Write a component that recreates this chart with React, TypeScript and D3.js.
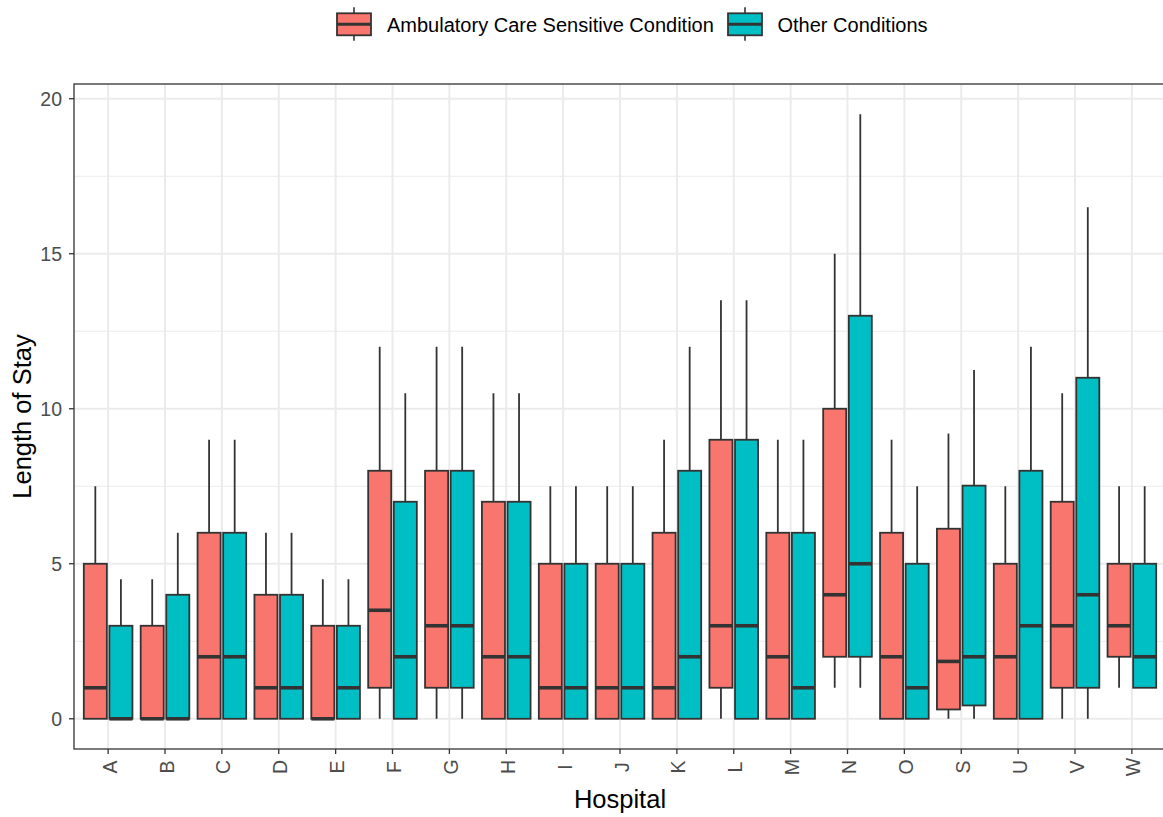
import React from "react";
import * as d3 from "d3";

// Hospitals along the x axis
const hospitals = ["A", "B", "C", "D", "E", "F", "G", "H", "I", "J", "K", "L", "M", "N", "O", "S", "U", "V", "W"];

// Ambulatory Care Sensitive Condition: whisker ends, quartiles and median
const acscLow = [0, 0, 0, 0, 0, 0, 0, 0, 0, 0, 0, 0, 0, 1, 0, 0, 0, 0, 1];
const acscQ1 = [0, 0, 0, 0, 0, 1, 1, 0, 0, 0, 0, 1, 0, 2, 0, 0.3, 0, 1, 2];
const acscMedian = [1, 0, 2, 1, 0, 3.5, 3, 2, 1, 1, 1, 3, 2, 4, 2, 1.85, 2, 3, 3];
const acscQ3 = [5, 3, 6, 4, 3, 8, 8, 7, 5, 5, 6, 9, 6, 10, 6, 6.13, 5, 7, 5];
const acscHigh = [7.5, 4.5, 9, 6, 4.5, 12, 12, 10.5, 7.5, 7.5, 9, 13.5, 9, 15, 9, 9.2, 7.5, 10.5, 7.5];

// Other Conditions: whisker ends, quartiles and median
const otherLow = [0, 0, 0, 0, 0, 0, 0, 0, 0, 0, 0, 0, 0, 1, 0, 0, 0, 0, 1];
const otherQ1 = [0, 0, 0, 0, 0, 0, 1, 0, 0, 0, 0, 0, 0, 2, 0, 0.43, 0, 1, 1];
const otherMedian = [0, 0, 2, 1, 1, 2, 3, 2, 1, 1, 2, 3, 1, 5, 1, 2, 3, 4, 2];
const otherQ3 = [3, 4, 6, 4, 3, 7, 8, 7, 5, 5, 8, 9, 6, 13, 5, 7.52, 8, 11, 5];
const otherHigh = [4.5, 6, 9, 6, 4.5, 10.5, 12, 10.5, 7.5, 7.5, 12, 13.5, 9, 19.5, 7.5, 11.25, 12, 16.5, 7.5];

const groupNames = ["Ambulatory Care Sensitive Condition", "Other Conditions"];
const groupColors = ["#F8766D", "#00BFC4"];

const yMajorTicks = [0, 5, 10, 15, 20];
const yMinorTicks = [2.5, 7.5, 12.5, 17.5];

const W = 1163;
const H = 817;
const panel = { left: 74, right: 1166, top: 84, bottom: 749 };
const FONT = "'Liberation Sans', Arial, Helvetica, sans-serif";
const INK = "#333333";

type Box = { low: number; q1: number; med: number; q3: number; high: number };

export default function App() {
  const x = d3
    .scalePoint<string>()
    .domain(hospitals)
    .range([panel.left, panel.right])
    .padding(0.6);
  const step = x.step();

  const y = d3
    .scaleLinear()
    .domain([-0.975, 20.475])
    .range([panel.bottom, panel.top]);

  const groups: Box[][] = [
    hospitals.map((_, i) => ({
      low: acscLow[i], q1: acscQ1[i], med: acscMedian[i], q3: acscQ3[i], high: acscHigh[i],
    })),
    hospitals.map((_, i) => ({
      low: otherLow[i], q1: otherQ1[i], med: otherMedian[i], q3: otherQ3[i], high: otherHigh[i],
    })),
  ];

  // dodged boxes: each slot is 0.45 of a step, box takes 90% of its slot
  const slot = step * 0.45;
  const boxW = slot * 0.9;
  const offsets = [-slot / 2, slot / 2];

  const legendKeys = [337, 728];
  const legendTextX = [387, 777.5];

  return (
    <svg
      width={W}
      height={H}
      viewBox={`0 0 ${W} ${H}`}
      style={{ position: "absolute", left: 0, top: 0, background: "#fff" }}
      fontFamily={FONT}
    >
      <rect x={0} y={0} width={W} height={H} fill="#fff" />

      {/* legend */}
      <g>
        {groupNames.map((name, gi) => {
          const kx = legendKeys[gi];
          const kw = 34;
          const cx = kx + kw / 2;
          return (
            <g key={name}>
              <line x1={cx} x2={cx} y1={7.3} y2={13.3} stroke={INK} strokeWidth={1.6} />
              <line x1={cx} x2={cx} y1={35.3} y2={40.7} stroke={INK} strokeWidth={1.6} />
              <rect x={kx} y={13.3} width={kw} height={22} fill={groupColors[gi]} stroke={INK} strokeWidth={1.8} />
              <line x1={kx} x2={kx + kw} y1={24.3} y2={24.3} stroke={INK} strokeWidth={3} />
              <text x={legendTextX[gi]} y={32} fontSize={20} fill="#000">
                {name}
              </text>
            </g>
          );
        })}
      </g>

      {/* grid */}
      <g>
        {yMinorTicks.map((t) => (
          <line key={"mi" + t} x1={panel.left} x2={panel.right} y1={y(t)} y2={y(t)} stroke="#EBEBEB" strokeWidth={1.2} />
        ))}
        {yMajorTicks.map((t) => (
          <line key={"ma" + t} x1={panel.left} x2={panel.right} y1={y(t)} y2={y(t)} stroke="#EBEBEB" strokeWidth={2} />
        ))}
        {hospitals.map((h) => (
          <line key={"v" + h} x1={x(h)!} x2={x(h)!} y1={panel.top} y2={panel.bottom} stroke="#EBEBEB" strokeWidth={2} />
        ))}
      </g>

      {/* boxplots */}
      <g>
        {groups.map((boxes, gi) =>
          boxes.map((b, i) => {
            const cx = x(hospitals[i])! + offsets[gi];
            const x0 = cx - boxW / 2;
            return (
              <g key={gi + "-" + i}>
                <line x1={cx} x2={cx} y1={y(b.high)} y2={y(b.q3)} stroke={INK} strokeWidth={1.8} />
                <line x1={cx} x2={cx} y1={y(b.q1)} y2={y(b.low)} stroke={INK} strokeWidth={1.8} />
                <rect
                  x={x0}
                  y={y(b.q3)}
                  width={boxW}
                  height={y(b.q1) - y(b.q3)}
                  fill={groupColors[gi]}
                  stroke={INK}
                  strokeWidth={1.8}
                />
                <line x1={x0} x2={x0 + boxW} y1={y(b.med)} y2={y(b.med)} stroke={INK} strokeWidth={3.6} />
              </g>
            );
          })
        )}
      </g>

      {/* panel border */}
      <rect
        x={panel.left}
        y={panel.top}
        width={panel.right - panel.left}
        height={panel.bottom - panel.top}
        fill="none"
        stroke={INK}
        strokeWidth={1.3}
      />

      {/* y axis */}
      <g>
        {yMajorTicks.map((t) => (
          <g key={"yt" + t}>
            <line x1={panel.left - 5} x2={panel.left} y1={y(t)} y2={y(t)} stroke={INK} strokeWidth={1.3} />
            <text x={panel.left - 12} y={y(t)} dy="0.35em" textAnchor="end" fontSize={19.5} fill="#4D4D4D">
              {t}
            </text>
          </g>
        ))}
        <text
          transform={`translate(31, ${(panel.top + panel.bottom) / 2}) rotate(-90)`}
          textAnchor="middle"
          fontSize={25.5}
          fill="#000"
        >
          Length of Stay
        </text>
      </g>

      {/* x axis */}
      <g>
        {hospitals.map((h) => (
          <g key={"xt" + h}>
            <line x1={x(h)!} x2={x(h)!} y1={panel.bottom} y2={panel.bottom + 5} stroke={INK} strokeWidth={1.3} />
            <text
              transform={`translate(${x(h)! + 1.5}, 767) rotate(-90)`}
              textAnchor="middle"
              dominantBaseline="central"
              fontSize={19.5}
              fill="#4D4D4D"
            >
              {h}
            </text>
          </g>
        ))}
        <text x={(panel.left + panel.right) / 2} y={808} textAnchor="middle" fontSize={25.5} fill="#000">
          Hospital
        </text>
      </g>
    </svg>
  );
}
